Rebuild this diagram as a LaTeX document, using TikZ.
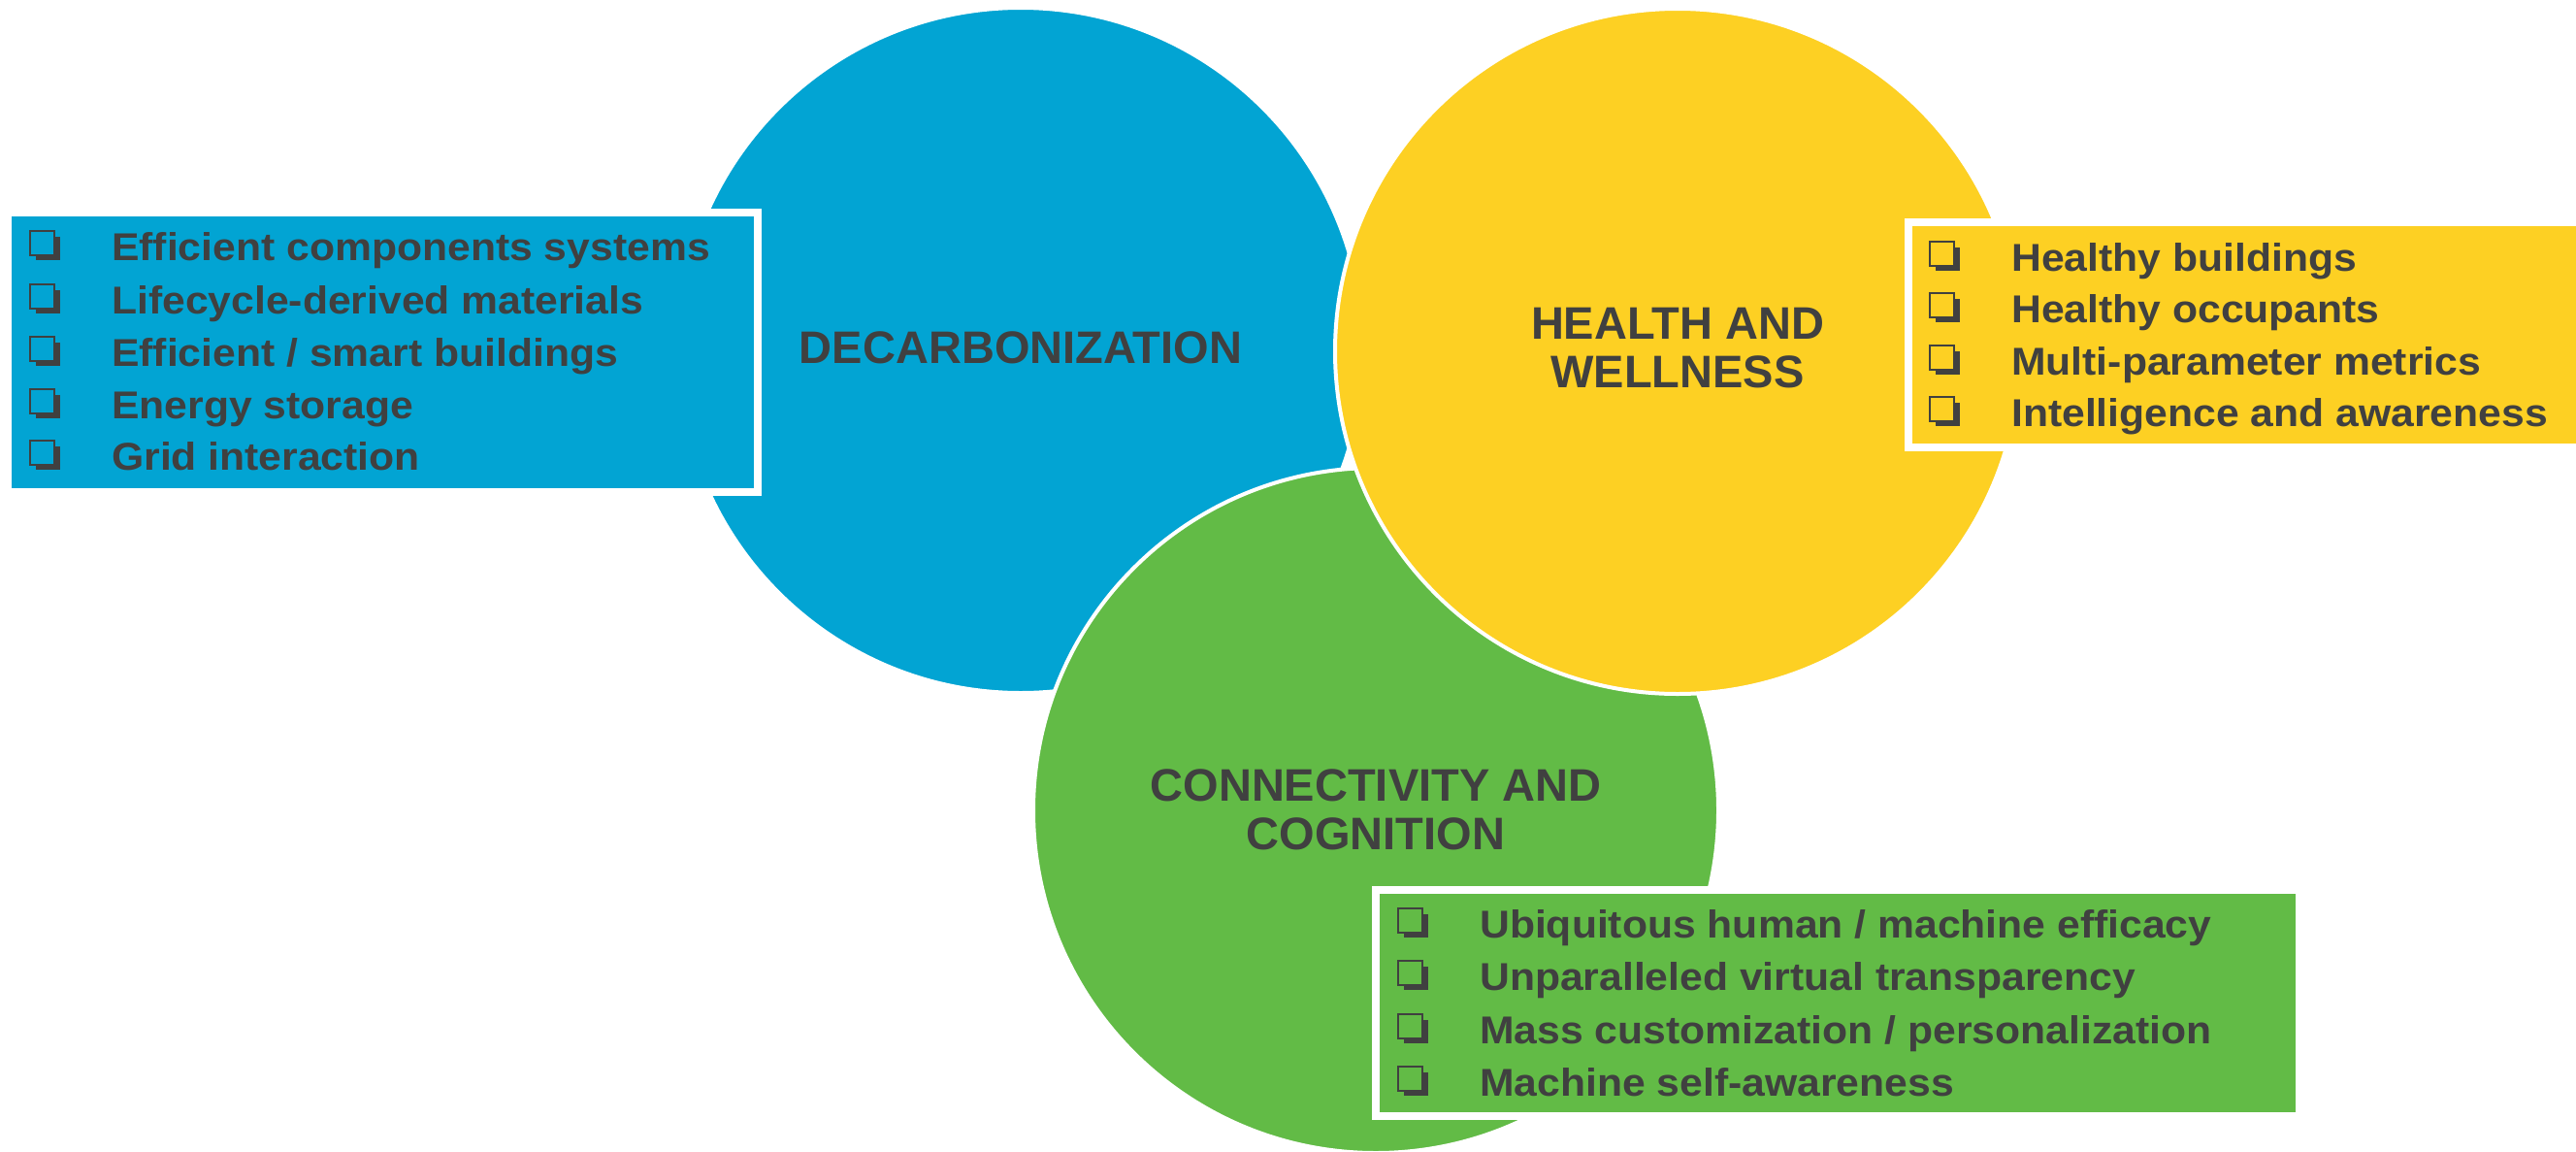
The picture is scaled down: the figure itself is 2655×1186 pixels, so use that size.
\documentclass[tikz,border=0pt]{standalone}
\usepackage{fontspec}
\setmainfont{Liberation Sans}
\newfontfamily\listfont{Liberation Sans}[FakeStretch=1.067]
\definecolor{ink}{HTML}{404040}
\definecolor{decblue}{HTML}{02A4D3}
\definecolor{healthyellow}{HTML}{FDD023}
\definecolor{conngreen}{HTML}{62BB46}
\begin{document}
\begin{tikzpicture}[x=1pt,y=-1pt,
  bubble/.style={circle, inner sep=0pt, minimum size=706pt, draw=white, line width=4pt},
  listbox/.style={rectangle, inner sep=0pt, draw=white, line width=8pt},
  title/.style={text=ink, font=\fontsize{47}{50}\selectfont\bfseries, align=center, inner sep=0pt},
  item/.style={text=ink, font=\listfont\fontsize{40}{48}\selectfont\bfseries, anchor=base west, inner sep=0pt},
  pics/chk/.style={code={
    \fill[ink] (6,-24) rectangle (31,0);
    \filldraw[fill=#1, draw=ink, line width=2.5pt] (0,-30) rectangle (25,-5);
  }}
]
\useasboundingbox (0,0) rectangle (2655,1186);
\fill[white] (0,0) rectangle (2655,1186);

% the three theme circles
\node[bubble, fill=decblue]      (dec)  at (1052,361) {};
\node[bubble, fill=conngreen]    (conn) at (1418,835) {};
\node[bubble, fill=healthyellow] (hw)   at (1729,362) {};

% list panels
\node[listbox, fill=decblue, minimum width=773pt, minimum height=288pt]      (decbox)  at (394.5,363) {};
\node[listbox, fill=healthyellow, minimum width=693pt, minimum height=232pt] (hwbox)   at (2313.5,345) {};
\node[listbox, fill=conngreen, minimum width=952pt, minimum height=233pt]    (connbox) at (1894,1033.5) {};

% circle titles
\node[title] (dect)  at (1052,358) {DECARBONIZATION};
\node[title] (hwt)   at (1729,359) {HEALTH AND\\WELLNESS};
\node[title] (connt) at (1418,834) {CONNECTIVITY AND\\COGNITION};

% decarbonization list
\node[item] (d1) at (115,268) {Efficient components systems};
\node[item] (d2) at (115,323) {Lifecycle-derived materials};
\node[item] (d3) at (115,377) {Efficient / smart buildings};
\node[item] (d4) at (115,431) {Energy storage};
\node[item] (d5) at (115,484) {Grid interaction};
\foreach \n in {d1,d2,d3,d4,d5}
  \pic at ([xshift=-84pt]\n.base west) {chk=decblue};

% health and wellness list
\node[item] (h1) at (2073,279) {Healthy buildings};
\node[item] (h2) at (2073,332) {Healthy occupants};
\node[item] (h3) at (2073,386) {Multi-parameter metrics};
\node[item] (h4) at (2073,439) {Intelligence and awareness};
\foreach \n in {h1,h2,h3,h4}
  \pic at ([xshift=-84pt]\n.base west) {chk=healthyellow};

% connectivity and cognition list
\node[item] (c1) at (1525,966)  {Ubiquitous human / machine efficacy};
\node[item] (c2) at (1525,1020) {Unparalleled virtual transparency};
\node[item] (c3) at (1525,1075) {Mass customization / personalization};
\node[item] (c4) at (1525,1129) {Machine self-awareness};
\foreach \n in {c1,c2,c3,c4}
  \pic at ([xshift=-84pt]\n.base west) {chk=conngreen};
\end{tikzpicture}
\end{document}
